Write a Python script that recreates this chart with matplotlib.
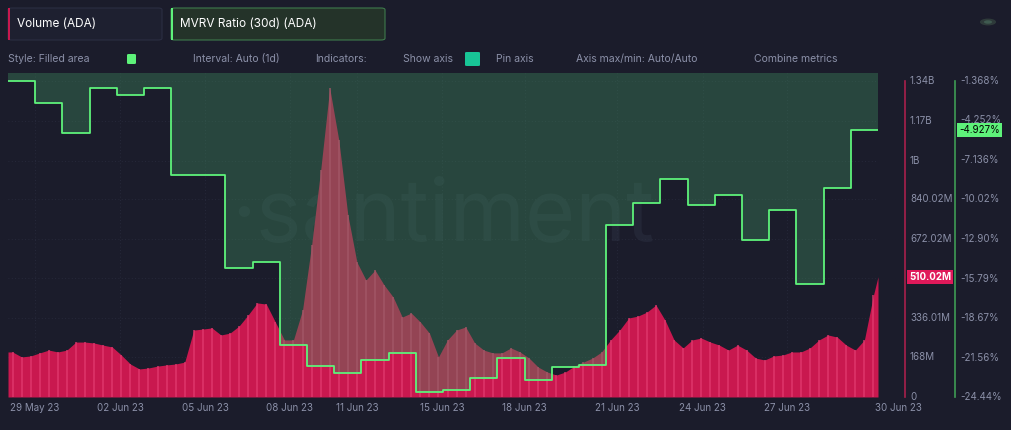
import matplotlib
matplotlib.use("Agg")
import matplotlib.pyplot as plt
import matplotlib.transforms as mtrans
from matplotlib.patches import FancyBboxPatch, Rectangle, Circle
import numpy as np

plt.rcParams.update({'font.family': 'Inter', 'font.size': 7})

# ---- data ----
# MVRV 30d, one value per day from 29 May to 29 Jun 2023 (%)
mvrv = [-1.37, -2.97, -5.16, -1.88, -2.39, -1.88, -8.23, -8.23,
        -15.02, -14.58, -20.64, -22.17, -22.68, -21.74, -21.23, -24.07,
        -23.92, -23.05, -21.59, -23.19, -22.24, -22.10, -11.88, -10.27,
        -8.52, -10.42, -9.69, -12.97, -10.78, -16.19, -9.18, -4.927]
# Volume (M ADA), three values per day
volume = [191, 170, 174, 187, 199, 191, 199, 233, 233, 229, 220, 212,
          178, 140, 119, 123, 131, 136, 140, 148, 284, 288, 293, 263,
          271, 301, 348, 399, 394, 318, 242, 242, 369, 644, 962, 1310,
          1090, 772, 572, 496, 538, 475, 424, 339, 356, 318, 271, 170,
          242, 284, 297, 229, 199, 187, 187, 208, 191, 165, 127, 106,
          93, 106, 131, 148, 165, 191, 242, 284, 335, 343, 360, 390,
          326, 242, 208, 242, 250, 233, 220, 199, 220, 199, 165, 157,
          174, 178, 191, 191, 208, 242, 263, 254, 220, 199, 242, 432]
vol_last = 510.02
date_labels = ['29 May 23', '02 Jun 23', '05 Jun 23', '08 Jun 23', '11 Jun 23',
               '15 Jun 23', '18 Jun 23', '21 Jun 23', '24 Jun 23', '27 Jun 23',
               '30 Jun 23']
date_pos = [0.99, 4.12, 7.25, 10.37, 12.84, 15.96, 19.01, 22.4, 25.56, 28.65, 32.77]
vol_ticks = [0, 168, 336.01, 504.01, 672.02, 840.02, 1000, 1170, 1340]
vol_tick_labels = ['0', '168M', '336.01M', '', '672.02M', '840.02M', '1B', '1.17B', '1.34B']
mvrv_ticks = [-24.44, -21.56, -18.67, -15.79, -12.90, -10.02, -7.136, -4.252, -1.368]
mvrv_tick_labels = ['-24.44%', '-21.56%', '-18.67%', '-15.79%', '-12.90%',
                    '-10.02%', '-7.136%', '-4.252%', '-1.368%']

BG = '#1b1c2b'
GRAY = '#8b90a8'
PINK = '#c9184f'
GREEN = '#5ef27a'

W, H = 1012, 430
fig = plt.figure(figsize=(W / 100, H / 100), dpi=100, facecolor=BG)


def fx(px):
    return px / W


def fy(py):
    return 1 - py / H


ax = fig.add_axes([fx(8), fy(397), fx(878) - fx(8), fy(73) - fy(397)])
ax.set_facecolor(BG)
for s in ax.spines.values():
    s.set_visible(False)
ax.set_xticks([])
ax.set_yticks([])
n_days = len(mvrv)
ax.set_xlim(0, n_days)
ax.set_ylim(0, 1374)

# faint grid
for t in vol_ticks[1:]:
    ax.axhline(t, color='#2a2d40', lw=0.6, ls=(0, (1, 3)), zorder=0)
for d in date_pos[:-1]:
    ax.axvline(d, color='#2a2d40', lw=0.6, ls=(0, (1, 3)), zorder=0)

# watermark
ax.text(0.5, 0.55, '·santiment', transform=ax.transAxes, ha='center', va='center',
        fontsize=62, color='#2c3042', alpha=0.5, zorder=0.5)

# volume area with light stripes
xv = (np.arange(len(volume)) + 0.5) / 3
xa = np.concatenate([[0], xv, [n_days]])
va = np.concatenate([[volume[0]], volume, [vol_last]])
ax.fill_between(xa, va, 0, color=PINK, lw=0, zorder=1)
ax.vlines(xv, 0, volume, color='#e23a70', lw=1.2, alpha=0.8, zorder=1.2)

# MVRV step area (filled toward zero) on a twin axis
ax2 = ax.twinx()
for s in ax2.spines.values():
    s.set_visible(False)
ax2.set_yticks([])
top = -1.368 + 8 * 0.073
ax2.set_ylim(-24.44, top)
xs = np.arange(n_days + 1)
ys = mvrv + [mvrv[-1]]
ax2.fill_between(xs, ys, top, step='post', color='#3f8c5e', alpha=0.38, lw=0, zorder=2)
ax2.step(xs, ys, where='post', color=GREEN, lw=1.3, zorder=3)
ax2.set_xlim(0, n_days)

# date labels
tr = mtrans.blended_transform_factory(ax.transData, fig.transFigure)
for d, lab in zip(date_pos, date_labels):
    ax.text(d, fy(408), lab, transform=tr, ha='center', va='center', color=GRAY,
            fontsize=7, clip_on=False)

# right axes
fig.add_artist(plt.Line2D([fx(905)] * 2, [fy(397), fy(81)], color='#a8204c', lw=1.2))
fig.add_artist(plt.Line2D([fx(955)] * 2, [fy(397), fy(81)], color='#3f9c55', lw=1.2))
trv = mtrans.blended_transform_factory(fig.transFigure, ax.transData)
for t, lab in zip(vol_ticks, vol_tick_labels):
    if lab:
        fig.text(fx(910), t, lab, transform=trv, ha='left', va='center', color=GRAY, fontsize=7)
trm = mtrans.blended_transform_factory(fig.transFigure, ax2.transData)
for t, lab in zip(mvrv_ticks, mvrv_tick_labels):
    fig.text(fx(960), t, lab, transform=trm, ha='left', va='center', color=GRAY, fontsize=7)
fig.text(fx(909), vol_last, '%.2fM' % vol_last, transform=trv, ha='left', va='center',
         color='white', fontsize=7, fontweight='bold',
         bbox=dict(boxstyle='square,pad=0.2', fc='#e0195a', ec='none'))
fig.text(fx(959), mvrv[-1], '%.3f%%' % mvrv[-1], transform=trm, ha='left', va='center',
         color='black', fontsize=7,
         bbox=dict(boxstyle='square,pad=0.2', fc=GREEN, ec='none'))

# header boxes
fig.add_artist(FancyBboxPatch((fx(8), fy(40)), fx(162) - fx(8), fy(8) - fy(40),
                              boxstyle='round,pad=0,rounding_size=0.004',
                              fc='#1e2030', ec='#2b2e42', lw=0.8))
fig.add_artist(Rectangle((fx(8), fy(40)), fx(10) - fx(8), fy(8) - fy(40), fc=PINK, ec='none'))
fig.text(fx(17), fy(24), 'Volume (ADA)', color='white', fontsize=8.5, va='center')
fig.add_artist(FancyBboxPatch((fx(171), fy(40)), fx(385) - fx(171), fy(8) - fy(40),
                              boxstyle='round,pad=0,rounding_size=0.004',
                              fc='#243329', ec='#3e7a4c', lw=0.8))
fig.add_artist(Rectangle((fx(171), fy(40)), fx(173) - fx(171), fy(8) - fy(40), fc=GREEN, ec='none'))
fig.text(fx(180), fy(24), 'MVRV Ratio (30d) (ADA)', color='white', fontsize=8.5, va='center')

# options row
for px, lab in [(8, 'Style: Filled area'), (193, 'Interval: Auto (1d)'),
                (315, 'Indicators:'), (403, 'Show axis'), (496, 'Pin axis'),
                (576, 'Axis max/min: Auto/Auto'), (754, 'Combine metrics')]:
    fig.text(fx(px), fy(59), lab, color=GRAY, fontsize=7.5, va='center')
fig.add_artist(FancyBboxPatch((fx(127), fy(64)), fx(136) - fx(127), fy(54) - fy(64),
                              boxstyle='round,pad=0,rounding_size=0.002', fc=GREEN, ec='none'))
fig.add_artist(FancyBboxPatch((fx(465), fy(66)), fx(480) - fx(465), fy(52) - fy(66),
                              boxstyle='round,pad=0,rounding_size=0.002', fc='#18c596', ec='none'))
fig.add_artist(Circle((fx(988), fy(22)), 0.008, transform=fig.transFigure, fc='#2e3a3a', ec='none'))
fig.add_artist(Circle((fx(988), fy(22)), 0.004, transform=fig.transFigure, fc='#3f5a50', ec='none'))

fig.savefig('out.png', dpi=100, facecolor=BG)
